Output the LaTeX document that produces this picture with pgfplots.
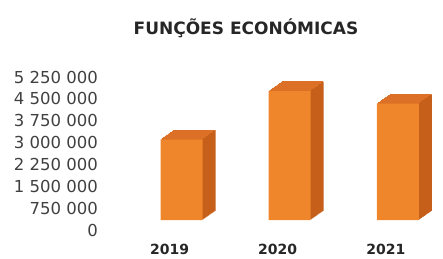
\documentclass[border=0pt]{standalone}
\usepackage{fontspec}
\setmainfont{DejaVu Sans}
\usepackage{pgfplots}
\pgfplotsset{compat=1.18}
\usepackage{pgfplotstable}
\definecolor{front}{HTML}{F0862C}
\definecolor{side}{HTML}{C65F1A}
\definecolor{topc}{HTML}{DC7026}
\pgfplotstableread{
x y
0 2770000
1 4430000
2 4000000
}\data
\begin{document}
\begin{tikzpicture}
\useasboundingbox (0,0) rectangle (443pt,258pt);
\node[font=\bfseries\fontsize{17}{20}\selectfont, text=black!85] at (246pt,230pt) {FUNÇÕES ECONÓMICAS};
\begin{axis}[
 at={(106pt,38pt)}, anchor=south west, scale only axis,
 width=335pt, height=153pt,
 xmin=-0.7, xmax=2.4, ymin=0, ymax=5250000,
 clip=false,
 axis line style={draw=none}, tick style={draw=none},
 scaled y ticks=false,
 ytick={0,750000,1500000,2250000,3000000,3750000,4500000,5250000},
 yticklabels={0,750 000,1 500 000,2 250 000,3 000 000,3 750 000,4 500 000,5 250 000},
 yticklabel style={font=\fontsize{16.5}{18}\selectfont, text=black!75, anchor=east, inner sep=0pt, xshift=-8pt, yshift=-10pt},
 xtick={0,1,2}, xticklabels={2019,2020,2021},
 xticklabel style={font=\bfseries\fontsize{14}{16}\selectfont, text=black!85, anchor=center, inner sep=0pt, xshift=-12pt, yshift=-29pt},
]
\pgfplotsinvokeforeach{13,12,...,1}{
 \addplot[ybar, bar width=42pt, bar shift=0pt, fill=side, draw=none, xshift=#1pt, yshift=#1*0.7pt] table[x=x,y=y]{\data};
}
\pgfplotsinvokeforeach{1,...,13}{
 \addplot[only marks, mark=-, mark size=20.5pt, mark options={draw=topc, line width=1pt}, xshift=#1pt, yshift=#1*0.7pt] table[x=x,y=y]{\data};
}
\addplot[ybar, bar width=42pt, bar shift=0pt, fill=front, draw=none] table[x=x,y=y]{\data};
\end{axis}
\end{tikzpicture}
\end{document}
